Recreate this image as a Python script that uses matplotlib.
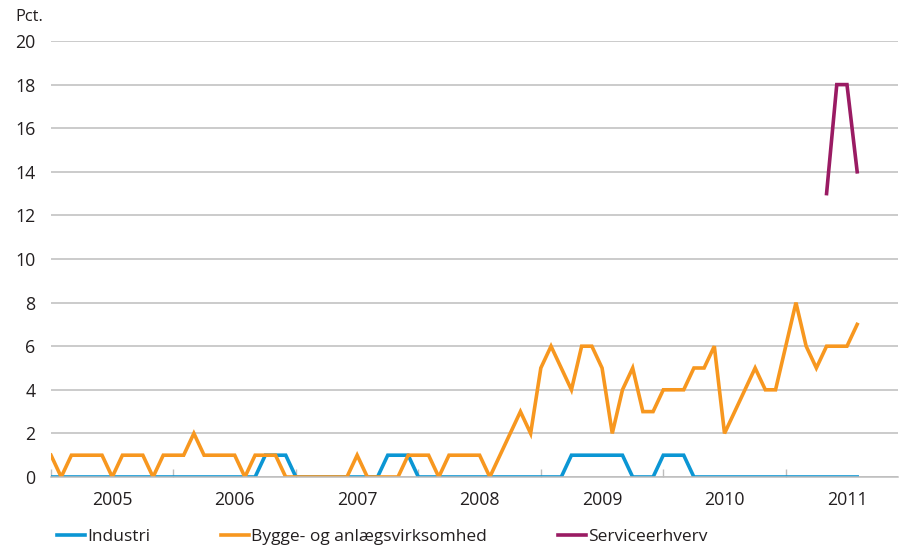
import numpy as np
import matplotlib.pyplot as plt

plt.rcParams['font.family'] = ['Open Sans', 'DejaVu Sans']

years = ['2005', '2006', '2007', '2008', '2009', '2010', '2011']
n_months = 84  # Jan 2005 - Dec 2011 on the category axis

# monthly shares (pct.), Jan 2005 - Aug 2011
industri = [0, 0, 0, 0, 0, 0, 0, 0, 0, 0, 0, 0,
            0, 0, 0, 0, 0, 0, 0, 0, 0, 1, 1, 1,
            0, 0, 0, 0, 0, 0, 0, 0, 0, 1, 1, 1,
            0, 0, 0, 0, 0, 0, 0, 0, 0, 0, 0, 0,
            0, 0, 0, 1, 1, 1, 1, 1, 1, 0, 0, 0,
            1, 1, 1, 0, 0, 0, 0, 0, 0, 0, 0, 0,
            0, 0, 0, 0, 0, 0, 0, 0]
bygge = [1, 0, 1, 1, 1, 1, 0, 1, 1, 1, 0, 1,
         1, 1, 2, 1, 1, 1, 1, 0, 1, 1, 1, 0,
         0, 0, 0, 0, 0, 0, 1, 0, 0, 0, 0, 1,
         1, 1, 0, 1, 1, 1, 1, 0, 1, 2, 3, 2,
         5, 6, 5, 4, 6, 6, 5, 2, 4, 5, 3, 3,
         4, 4, 4, 5, 5, 6, 2, 3, 4, 5, 4, 4,
         6, 8, 6, 5, 6, 6, 6, 7]
service = [np.nan] * 76 + [13, 18, 18, 14]

series = [
    ('Industri', industri, '#0b96d4'),
    ('Bygge- og anlægsvirksomhed', bygge, '#f7971f'),
    ('Serviceerhverv', service, '#9a1b63'),
]

text_color = '#231f20'
grid_color = '#bdbdbd'
fs = 12.8

fig = plt.figure(figsize=(9.06, 5.51), dpi=100)
ax = fig.add_axes([51 / 906, 1 - 477 / 551, 847 / 906, 436 / 551])

for name, values, color in series:
    x = np.arange(len(values))
    ax.plot(x, values, color=color, lw=2.6, label=name, solid_joinstyle='miter')

ax.set_xlim(0, n_months - 1)
ax.set_ylim(0, 20)
ax.set_yticks(range(0, 21, 2))
ax.yaxis.grid(True, color=grid_color, lw=1.1)
ax.set_axisbelow(True)
ax.tick_params(axis='y', length=0, pad=11, labelsize=fs, labelcolor=text_color)

# year boundaries as small inward ticks, year names centred in between
ax.set_xticks(range(0, n_months, 12))
ax.set_xticklabels([])
ax.set_xticks([6 + 12 * i for i in range(len(years))], minor=True)
ax.set_xticklabels(years, minor=True)
ax.tick_params(axis='x', which='major', direction='in', length=6, color=grid_color, width=1)
ax.tick_params(axis='x', which='minor', length=0, pad=10, labelsize=fs, labelcolor=text_color)

for side in ['left', 'right', 'top']:
    ax.spines[side].set_visible(False)
ax.spines['bottom'].set_color(grid_color)
ax.spines['bottom'].set_linewidth(1.1)

fig.text(15 / 906, 1 - 17 / 551, 'Pct.', fontsize=11.8, color=text_color, va='center', ha='left')

leg = fig.legend(loc='center left', bbox_to_anchor=(57 / 906, 1 - 537 / 551), ncol=3,
                 frameon=False, fontsize=12.5, handlelength=1.6, handletextpad=0.12,
                 columnspacing=4.1, borderaxespad=0, borderpad=0)
for t in leg.get_texts():
    t.set_color(text_color)

fig.savefig('out.png', dpi=100)
